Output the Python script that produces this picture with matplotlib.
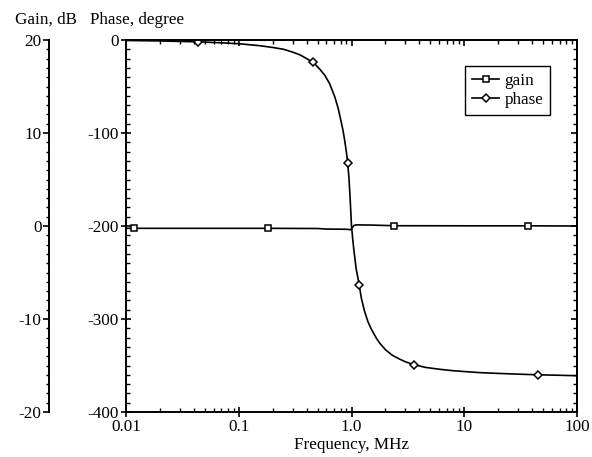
import matplotlib
matplotlib.use('Agg')
import matplotlib.pyplot as plt
from matplotlib.ticker import FixedLocator, FixedFormatter, MultipleLocator, LogLocator, NullFormatter

plt.rcParams['font.family'] = ['Liberation Serif', 'DejaVu Serif']
plt.rcParams['font.size'] = 12.3
plt.rcParams['axes.unicode_minus'] = False

# gain curve, dB
gain_freq = [0.01, 0.0118, 0.05, 0.18, 0.5, 0.6, 0.9, 0.98, 1.0, 1.05, 1.1, 1.5, 2.38, 10, 36.6, 100]
gain_db = [-0.25, -0.25, -0.25, -0.25, -0.27, -0.33, -0.35, -0.4, -0.3, 0.05, 0.12, 0.1, 0.03, 0.02, 0.02, 0.0]
gain_marks = [1, 3, 12, 14]

# phase curve, degree
phase_freq = [0.01, 0.02, 0.0436, 0.07, 0.1, 0.15, 0.2, 0.25, 0.3, 0.35, 0.4, 0.458,
              0.52, 0.58, 0.64, 0.71, 0.76, 0.8, 0.84, 0.87, 0.9, 0.925, 0.95, 0.975,
              1.0, 1.025, 1.05, 1.1, 1.17, 1.22, 1.3, 1.4, 1.5, 1.65, 1.78, 2.0, 2.3,
              2.66, 3.0, 3.56, 4.5, 6.0, 7.8, 10, 13.9, 20, 30, 44.8, 70, 100]
phase_deg = [-0.5, -1, -2, -3, -4, -6, -8, -10, -13, -16, -20, -24,
             -31, -38, -47, -61, -73, -85, -97, -108, -120, -132, -149, -173,
             -200, -214, -226, -246, -263, -277, -291, -303, -311, -320, -326, -333, -339,
             -343, -346, -349, -352, -354, -355.5, -356.5, -357.7, -358.5, -359.3, -360, -360.5, -361]
phase_marks = [2, 11, 21, 28, 39, 47]

x_ticks = [0.01, 0.1, 1, 10, 100]
x_tick_labels = ['0.01', '0.1', '1.0', '10', '100']

fig = plt.figure(figsize=(5.92, 4.57), dpi=100)
ax = fig.add_axes([126 / 592, 1 - 412 / 457, 451 / 592, 372 / 457])
ax_gain = ax.twinx()

lw_axis = 1.4
for s in ax.spines.values():
    s.set_linewidth(lw_axis)
for name in ['top', 'right', 'bottom']:
    ax_gain.spines[name].set_visible(False)
ax_gain.spines['left'].set_visible(True)
ax_gain.spines['left'].set_position(('outward', 77 * 0.72))
ax_gain.spines['left'].set_linewidth(lw_axis)
ax_gain.yaxis.set_ticks_position('left')

phase_line, = ax.plot(phase_freq, phase_deg, color='black', lw=1.2, marker='D', markersize=4,
                      markerfacecolor='white', markeredgecolor='black', markeredgewidth=1.1,
                      markevery=phase_marks, label='phase')
gain_line, = ax_gain.plot(gain_freq, gain_db, color='black', lw=1.2, marker='s', markersize=5,
                          markerfacecolor='white', markeredgecolor='black', markeredgewidth=1.1,
                          markevery=gain_marks, label='gain')

ax.set_xscale('log')
ax.set_xlim(0.01, 100)
ax.set_ylim(-400, 0)
ax_gain.set_ylim(-20, 20)

ax.xaxis.set_major_locator(FixedLocator(x_ticks))
ax.xaxis.set_major_formatter(FixedFormatter(x_tick_labels))
ax.xaxis.set_minor_locator(LogLocator(base=10, subs=range(2, 10)))
ax.xaxis.set_minor_formatter(NullFormatter())
ax.yaxis.set_major_locator(MultipleLocator(100))
ax.yaxis.set_minor_locator(MultipleLocator(10))
ax_gain.yaxis.set_major_locator(MultipleLocator(10))
ax_gain.yaxis.set_minor_locator(MultipleLocator(1))

ax.tick_params(which='major', direction='inout', length=6.5, width=1.2, pad=2, top=False, right=False)
ax.tick_params(which='minor', direction='in', length=3, width=1.0, top=False, right=False)
ax_gain.tick_params(which='major', direction='out', length=4.3, width=1.2, pad=1)
ax_gain.tick_params(which='minor', direction='out', length=2.4, width=1.0)

top = ax.secondary_xaxis('top')
top.xaxis.set_major_locator(FixedLocator(x_ticks))
top.xaxis.set_minor_locator(LogLocator(base=10, subs=range(2, 10)))
top.xaxis.set_major_formatter(NullFormatter())
top.xaxis.set_minor_formatter(NullFormatter())
top.tick_params(which='major', direction='in', length=4, width=1.2)
top.tick_params(which='minor', direction='in', length=3, width=1.0)
top.spines['top'].set_linewidth(lw_axis)

right = ax.secondary_yaxis('right')
right.yaxis.set_major_locator(MultipleLocator(100))
right.yaxis.set_minor_locator(MultipleLocator(10))
right.yaxis.set_major_formatter(NullFormatter())
right.tick_params(which='major', direction='in', length=4, width=1.2)
right.tick_params(which='minor', direction='in', length=3, width=1.0)
right.spines['right'].set_linewidth(lw_axis)

ax.set_xlabel('Frequency, MHz', labelpad=1)
fig.text(15 / 592, 1 - 24 / 457, 'Gain, dB', ha='left', va='baseline')
fig.text(90 / 592, 1 - 24 / 457, 'Phase, degree', ha='left', va='baseline')

leg = ax_gain.legend(handles=[gain_line, phase_line], loc='upper left',
                     bbox_to_anchor=(465 / 592, 1 - 66 / 457), bbox_transform=fig.transFigure,
                     fancybox=False, framealpha=1, edgecolor='black', handlelength=1.6,
                     handletextpad=0.3, borderpad=0.4, labelspacing=0.2, borderaxespad=0)
leg.get_frame().set_linewidth(1.0)

fig.savefig('out.png', dpi=100)
